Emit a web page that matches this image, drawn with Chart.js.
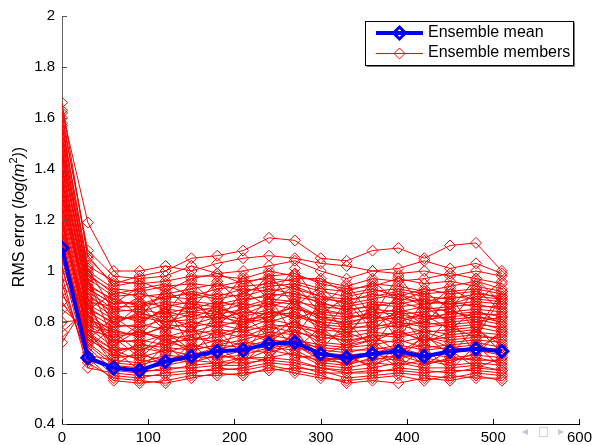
<!DOCTYPE html>
<html>
<head>
<meta charset="utf-8">
<script src="https://cdn.jsdelivr.net/npm/chart.js@4/dist/chart.umd.min.js"></script>
<style>
    body { margin: 0; background: #fff; }
    #wrap { width: 597px; height: 445px; position: relative; }
</style>
</head>
<body>
<div id="wrap"><canvas id="chart"></canvas></div>
<script>
const FONT = '"Liberation Sans", Arial, sans-serif';

// time steps of each assimilation cycle
const steps = [0, 30, 60, 90, 120, 150, 180, 210, 240, 270, 300, 330, 360, 390, 420, 450, 480, 510];

const ensembleMean = [1.09, 0.66, 0.62, 0.61, 0.645, 0.665, 0.685, 0.69, 0.715, 0.72, 0.675, 0.66, 0.675, 0.685, 0.665, 0.685, 0.695, 0.685];

// one row per member
const ensembleMembers = [
    [1.66, 1.05, 0.95, 0.98, 1.00, 1.05, 1.06, 1.08, 1.13, 1.12, 1.05, 1.04, 1.08, 1.09, 1.05, 1.10, 1.11, 1.00],
    [1.63, 1.19, 1.00, 1.00, 1.02, 1.00, 1.03, 1.05, 1.06, 1.05, 1.03, 1.02, 1.00, 1.01, 1.04, 1.01, 1.03, 0.99],
    [1.60, 1.08, 0.98, 0.97, 0.98, 1.02, 0.99, 1.00, 1.02, 1.04, 1.00, 0.97, 1.00, 0.99, 1.00, 0.98, 1.00, 0.98],
    [1.58, 1.02, 0.96, 0.95, 0.96, 0.98, 0.98, 0.97, 1.00, 0.98, 0.96, 0.94, 0.97, 0.96, 0.97, 0.99, 0.97, 0.95],
    [1.55, 1.00, 0.93, 0.92, 0.94, 0.95, 0.94, 0.96, 0.97, 0.96, 0.93, 0.92, 0.95, 0.94, 0.92, 0.94, 0.96, 0.93],
    [1.52, 0.98, 0.92, 0.90, 0.91, 0.93, 0.95, 0.92, 0.94, 0.95, 0.92, 0.90, 0.92, 0.93, 0.91, 0.92, 0.93, 0.91],
    [1.50, 0.97, 0.90, 0.91, 0.89, 0.92, 0.90, 0.93, 0.92, 0.94, 0.90, 0.89, 0.90, 0.92, 0.90, 0.89, 0.91, 0.90],
    [1.47, 0.95, 0.88, 0.87, 0.90, 0.89, 0.91, 0.90, 0.93, 0.91, 0.89, 0.88, 0.91, 0.89, 0.88, 0.90, 0.89, 0.88],
    [1.45, 0.93, 0.87, 0.88, 0.86, 0.88, 0.87, 0.89, 0.90, 0.92, 0.87, 0.86, 0.88, 0.87, 0.89, 0.87, 0.88, 0.87],
    [1.42, 0.92, 0.85, 0.84, 0.87, 0.85, 0.88, 0.86, 0.89, 0.88, 0.86, 0.85, 0.86, 0.88, 0.85, 0.86, 0.87, 0.85],
    [1.40, 0.90, 0.84, 0.85, 0.83, 0.86, 0.84, 0.87, 0.86, 0.89, 0.84, 0.83, 0.85, 0.84, 0.86, 0.84, 0.85, 0.84],
    [1.38, 0.89, 0.82, 0.81, 0.84, 0.82, 0.85, 0.83, 0.87, 0.85, 0.83, 0.82, 0.83, 0.85, 0.82, 0.83, 0.84, 0.82],
    [1.36, 0.87, 0.81, 0.82, 0.80, 0.83, 0.81, 0.84, 0.83, 0.86, 0.81, 0.80, 0.82, 0.81, 0.83, 0.81, 0.82, 0.81],
    [1.34, 0.86, 0.79, 0.78, 0.81, 0.79, 0.82, 0.80, 0.84, 0.82, 0.80, 0.79, 0.80, 0.82, 0.79, 0.80, 0.81, 0.79],
    [1.32, 0.84, 0.78, 0.79, 0.77, 0.80, 0.78, 0.81, 0.80, 0.83, 0.78, 0.77, 0.79, 0.78, 0.80, 0.78, 0.79, 0.78],
    [1.30, 0.83, 0.76, 0.75, 0.78, 0.76, 0.79, 0.77, 0.81, 0.79, 0.77, 0.76, 0.77, 0.79, 0.76, 0.77, 0.78, 0.76],
    [1.28, 0.82, 0.75, 0.76, 0.74, 0.77, 0.75, 0.78, 0.77, 0.80, 0.75, 0.74, 0.76, 0.75, 0.77, 0.75, 0.76, 0.75],
    [1.26, 0.80, 0.73, 0.72, 0.75, 0.73, 0.76, 0.74, 0.78, 0.76, 0.74, 0.73, 0.74, 0.76, 0.73, 0.74, 0.75, 0.73],
    [1.24, 0.79, 0.72, 0.73, 0.71, 0.74, 0.72, 0.75, 0.74, 0.77, 0.72, 0.71, 0.73, 0.72, 0.74, 0.72, 0.73, 0.72],
    [1.22, 0.78, 0.70, 0.69, 0.72, 0.70, 0.73, 0.71, 0.75, 0.73, 0.71, 0.70, 0.71, 0.73, 0.70, 0.71, 0.72, 0.70],
    [1.20, 0.76, 0.69, 0.70, 0.68, 0.71, 0.69, 0.72, 0.71, 0.74, 0.69, 0.68, 0.70, 0.69, 0.71, 0.69, 0.70, 0.69],
    [1.18, 0.75, 0.67, 0.66, 0.69, 0.67, 0.70, 0.68, 0.72, 0.70, 0.68, 0.67, 0.68, 0.70, 0.67, 0.68, 0.69, 0.67],
    [1.16, 0.74, 0.66, 0.67, 0.65, 0.68, 0.66, 0.69, 0.68, 0.71, 0.66, 0.65, 0.67, 0.66, 0.68, 0.66, 0.67, 0.66],
    [1.14, 0.72, 0.64, 0.63, 0.66, 0.64, 0.67, 0.65, 0.69, 0.67, 0.65, 0.64, 0.65, 0.67, 0.64, 0.65, 0.66, 0.64],
    [1.12, 0.71, 0.63, 0.62, 0.63, 0.65, 0.64, 0.66, 0.66, 0.68, 0.63, 0.62, 0.64, 0.63, 0.65, 0.63, 0.64, 0.63],
    [1.10, 0.70, 0.61, 0.60, 0.62, 0.62, 0.63, 0.63, 0.66, 0.65, 0.62, 0.61, 0.62, 0.64, 0.62, 0.62, 0.63, 0.61],
    [1.08, 0.68, 0.59, 0.58, 0.60, 0.61, 0.61, 0.62, 0.64, 0.63, 0.60, 0.60, 0.61, 0.61, 0.60, 0.61, 0.61, 0.60],
    [1.05, 0.66, 0.57, 0.56, 0.57, 0.59, 0.59, 0.60, 0.61, 0.62, 0.61, 0.58, 0.59, 0.60, 0.59, 0.58, 0.60, 0.59],
    [1.02, 0.64, 0.58, 0.57, 0.56, 0.58, 0.60, 0.59, 0.62, 0.60, 0.58, 0.57, 0.58, 0.59, 0.57, 0.59, 0.58, 0.58],
    [0.98, 0.62, 0.60, 0.59, 0.59, 0.60, 0.62, 0.61, 0.63, 0.61, 0.59, 0.56, 0.57, 0.56, 0.58, 0.57, 0.59, 0.57],
    [0.95, 0.65, 0.62, 0.61, 0.61, 0.63, 0.64, 0.64, 0.65, 0.64, 0.62, 0.60, 0.60, 0.62, 0.61, 0.60, 0.62, 0.61],
    [0.92, 0.67, 0.65, 0.64, 0.67, 0.66, 0.66, 0.67, 0.70, 0.69, 0.64, 0.63, 0.66, 0.65, 0.63, 0.66, 0.65, 0.65],
    [0.88, 0.73, 0.68, 0.71, 0.70, 0.69, 0.71, 0.70, 0.73, 0.72, 0.70, 0.69, 0.69, 0.71, 0.69, 0.70, 0.71, 0.68],
    [0.85, 0.77, 0.74, 0.76, 0.73, 0.75, 0.77, 0.76, 0.79, 0.78, 0.76, 0.72, 0.75, 0.74, 0.76, 0.73, 0.74, 0.74],
    [0.80, 0.81, 0.77, 0.74, 0.79, 0.78, 0.80, 0.79, 0.82, 0.84, 0.79, 0.78, 0.78, 0.80, 0.78, 0.79, 0.80, 0.77],
    [0.76, 0.85, 0.80, 0.83, 0.82, 0.84, 0.83, 0.85, 0.88, 0.87, 0.82, 0.81, 0.84, 0.83, 0.81, 0.82, 0.83, 0.83],
    [0.72, 0.88, 0.86, 0.86, 0.88, 0.87, 0.86, 0.88, 0.91, 0.90, 0.88, 0.84, 0.87, 0.86, 0.87, 0.88, 0.86, 0.86],
    [1.62, 1.06, 0.94, 0.96, 0.92, 0.97, 0.99, 0.95, 0.98, 0.99, 0.95, 0.93, 0.94, 0.97, 0.95, 0.96, 0.94, 0.92],
    [1.48, 0.99, 0.91, 0.93, 0.95, 0.90, 0.93, 0.94, 0.95, 0.97, 0.97, 0.91, 0.93, 0.90, 0.93, 0.91, 0.92, 0.89],
    [1.35, 0.94, 0.89, 0.86, 0.90, 0.91, 0.89, 0.91, 0.96, 0.93, 0.90, 0.87, 0.89, 0.91, 0.88, 0.87, 0.90, 0.89],
    [1.25, 0.91, 0.83, 0.80, 0.85, 0.84, 0.86, 0.82, 0.85, 0.81, 0.85, 0.83, 0.81, 0.83, 0.84, 0.85, 0.80, 0.82],
    [1.15, 0.83, 0.71, 0.77, 0.72, 0.73, 0.74, 0.77, 0.72, 0.79, 0.73, 0.76, 0.72, 0.77, 0.72, 0.76, 0.77, 0.71],
    [1.06, 0.79, 0.76, 0.68, 0.76, 0.69, 0.71, 0.73, 0.76, 0.75, 0.67, 0.71, 0.75, 0.68, 0.74, 0.70, 0.69, 0.76],
    [1.44, 0.96, 0.79, 0.84, 0.80, 0.81, 0.83, 0.81, 0.82, 0.86, 0.82, 0.79, 0.83, 0.79, 0.80, 0.84, 0.82, 0.80],
    [1.32, 0.87, 0.69, 0.65, 0.64, 0.67, 0.68, 0.70, 0.70, 0.71, 0.65, 0.66, 0.63, 0.67, 0.66, 0.64, 0.68, 0.70],
    [1.57, 1.01, 0.84, 0.90, 0.78, 0.88, 0.80, 0.92, 0.86, 0.95, 0.83, 0.90, 0.79, 0.91, 0.86, 0.80, 0.93, 0.84],
    [1.53, 0.97, 0.72, 0.79, 0.86, 0.70, 0.84, 0.78, 0.90, 0.74, 0.88, 0.75, 0.86, 0.73, 0.89, 0.78, 0.74, 0.90],
    [1.41, 0.89, 0.66, 0.72, 0.68, 0.79, 0.65, 0.83, 0.74, 0.81, 0.69, 0.80, 0.70, 0.84, 0.71, 0.82, 0.67, 0.77],
    [1.29, 0.85, 0.91, 0.82, 0.93, 0.85, 0.96, 0.87, 0.99, 0.86, 0.94, 0.84, 0.96, 0.88, 0.92, 0.85, 0.97, 0.87],
    [1.21, 0.77, 0.63, 0.69, 0.62, 0.72, 0.62, 0.66, 0.65, 0.77, 0.64, 0.67, 0.62, 0.71, 0.63, 0.69, 0.62, 0.66],
    [1.11, 0.73, 0.82, 0.75, 0.84, 0.76, 0.88, 0.79, 0.84, 0.83, 0.80, 0.74, 0.87, 0.80, 0.83, 0.77, 0.85, 0.79],
    [1.46, 0.93, 0.87, 0.94, 0.83, 0.96, 0.86, 0.98, 0.89, 1.01, 0.86, 0.95, 0.82, 0.98, 0.85, 0.93, 0.88, 0.96],
    [1.37, 0.81, 0.74, 0.66, 0.74, 0.68, 0.77, 0.67, 0.81, 0.69, 0.78, 0.70, 0.73, 0.65, 0.75, 0.67, 0.78, 0.68],
    [1.19, 0.75, 0.69, 0.61, 0.71, 0.63, 0.70, 0.64, 0.73, 0.66, 0.67, 0.63, 0.69, 0.62, 0.70, 0.61, 0.71, 0.62],
    [1.01, 0.70, 0.78, 0.87, 0.76, 0.90, 0.79, 0.86, 0.80, 0.89, 0.75, 0.88, 0.77, 0.85, 0.79, 0.90, 0.76, 0.92]
];

const xTicks = [0, 100, 200, 300, 400, 500, 600];
const yTicks = [0.4, 0.6, 0.8, 1, 1.2, 1.4, 1.6, 1.8, 2];
const legendLabels = ['Ensemble mean', 'Ensemble members'];

function toPoints(vals) {
    return vals.map((v, i) => ({ x: steps[i], y: v }));
}

// mean goes first so it is drawn on top of the members
const datasets = [{
    data: toPoints(ensembleMean),
    borderColor: '#0000ff',
    borderWidth: 4,
    pointStyle: 'rectRot',
    pointRadius: 6,
    pointBorderWidth: 3,
    pointBorderColor: '#0000ff',
    pointBackgroundColor: 'rgba(0,0,0,0)'
}];
ensembleMembers.forEach(m => {
    datasets.push({
        data: toPoints(m),
        borderColor: '#ff0000',
        borderWidth: 1,
        pointStyle: 'rectRot',
        pointRadius: 5.5,
        pointBorderWidth: 1,
        pointBorderColor: '#ff0000',
        pointBackgroundColor: 'rgba(0,0,0,0)'
    });
});

function diamond(ctx, x, y, r) {
    ctx.beginPath();
    ctx.moveTo(x, y - r);
    ctx.lineTo(x + r, y);
    ctx.lineTo(x, y + r);
    ctx.lineTo(x - r, y);
    ctx.closePath();
    ctx.stroke();
}

const decorations = {
    id: 'decorations',
    afterDraw(chart) {
        const ctx = chart.ctx;
        const area = chart.chartArea;
        const xs = chart.scales.x, ys = chart.scales.y;
        ctx.save();

        // inward tick marks
        ctx.lineWidth = 1;
        ctx.strokeStyle = '#000';
        xTicks.forEach(t => {
            const px = Math.round(xs.getPixelForValue(t)) + 0.5;
            ctx.beginPath();
            ctx.moveTo(px, area.bottom);
            ctx.lineTo(px, area.bottom - 5);
            ctx.stroke();
        });
        ctx.strokeStyle = '#555';
        yTicks.forEach(t => {
            const py = Math.round(ys.getPixelForValue(t)) + 0.5;
            ctx.beginPath();
            ctx.moveTo(area.left, py);
            ctx.lineTo(area.left + 5, py);
            ctx.stroke();
        });

        // y axis title with italic part and superscript
        ctx.translate(20, 217);
        ctx.rotate(-Math.PI / 2);
        ctx.fillStyle = '#000';
        ctx.textBaseline = 'middle';
        const parts = [
            { t: 'RMS error (', f: '16px ' + FONT, dy: 0 },
            { t: 'log(m', f: 'italic 16px ' + FONT, dy: 0 },
            { t: '2', f: '11px ' + FONT, dy: -6 },
            { t: ')', f: 'italic 16px ' + FONT, dy: 0 },
            { t: ')', f: '16px ' + FONT, dy: 0 }
        ];
        let total = 0;
        parts.forEach(p => { ctx.font = p.f; p.w = ctx.measureText(p.t).width; total += p.w; });
        let cx = -total / 2;
        parts.forEach(p => {
            ctx.font = p.f;
            ctx.fillText(p.t, cx, p.dy);
            cx += p.w;
        });
        ctx.restore();

        // legend box
        ctx.save();
        ctx.fillStyle = '#fff';
        ctx.fillRect(365.5, 21.5, 208, 44);
        ctx.lineWidth = 1;
        ctx.strokeStyle = '#000';
        ctx.strokeRect(365.5, 21.5, 208, 44);
        ctx.strokeStyle = '#777';
        ctx.beginPath();
        ctx.moveTo(366.5, 66.5);
        ctx.lineTo(574.5, 66.5);
        ctx.lineTo(574.5, 22.5);
        ctx.stroke();

        ctx.strokeStyle = 'rgb(0,0,255)';
        ctx.lineWidth = 4;
        ctx.beginPath();
        ctx.moveTo(376, 33);
        ctx.lineTo(423, 33);
        ctx.stroke();
        ctx.lineWidth = 3;
        diamond(ctx, 399.5, 33, 6);

        ctx.strokeStyle = 'rgb(255,0,0)';
        ctx.lineWidth = 1;
        ctx.beginPath();
        ctx.moveTo(376, 53.5);
        ctx.lineTo(423, 53.5);
        ctx.stroke();
        diamond(ctx, 399.5, 53.5, 5.5);

        ctx.fillStyle = '#000';
        ctx.font = '16px ' + FONT;
        ctx.textBaseline = 'middle';
        ctx.fillText(legendLabels[0], 428, 33);
        ctx.fillText(legendLabels[1], 428, 53);

        // slide navigation symbols
        ctx.fillStyle = '#c4c4dc';
        ctx.font = '12px "DejaVu Sans"';
        ctx.fillText('\u25C2', 522, 432);
        ctx.fillText('\u25A1', 538, 432);
        ctx.fillText('\u25B8', 558, 432);
        ctx.restore();
    }
};

new Chart(document.getElementById('chart'), {
    type: 'line',
    data: { datasets },
    plugins: [decorations],
    options: {
        responsive: true,
        maintainAspectRatio: false,
        animation: false,
        layout: { padding: { top: 13, right: 15, left: 0, bottom: 0 } },
        plugins: { legend: { display: false }, tooltip: { enabled: false } },
        elements: { line: { tension: 0 } },
        scales: {
            x: {
                type: 'linear',
                min: 0,
                max: 600,
                afterBuildTicks: s => { s.ticks = xTicks.map(v => ({ value: v })); },
                afterFit: s => { s.height = 21; },
                grid: { display: false, drawTicks: false },
                border: { display: true, color: '#000', width: 1 },
                ticks: { color: '#000', padding: 5, font: { family: FONT, size: 15 }, maxRotation: 0 }
            },
            y: {
                type: 'linear',
                min: 0.4,
                max: 2,
                afterBuildTicks: s => { s.ticks = yTicks.map(v => ({ value: v })); },
                afterFit: s => { s.width = 62; },
                grid: { display: false, drawTicks: false },
                border: { display: true, color: '#666', width: 1 },
                ticks: {
                    color: '#000',
                    padding: 7,
                    font: { family: FONT, size: 15 },
                    callback: v => String(Number(v.toFixed(1)))
                }
            }
        }
    }
});
</script>
</body>
</html>
